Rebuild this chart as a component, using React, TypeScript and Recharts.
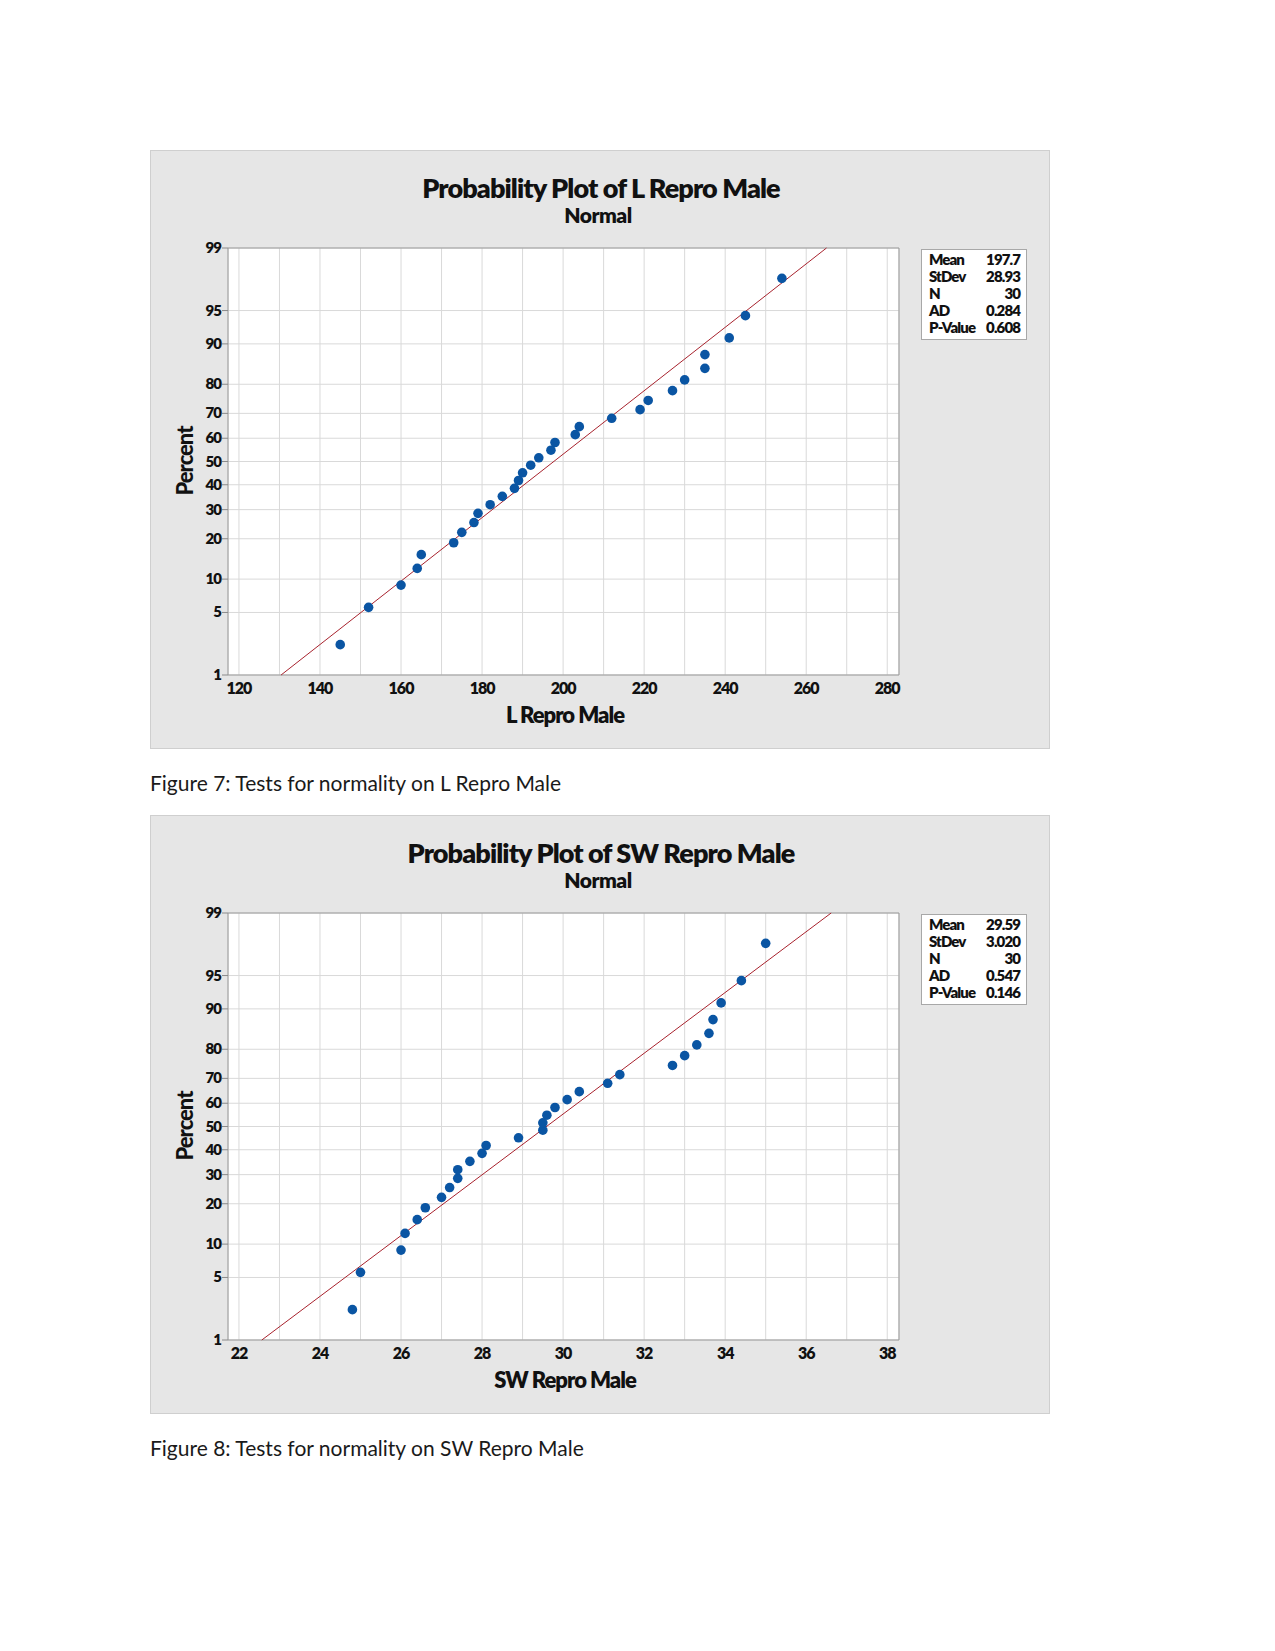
import React from "react";
import {CartesianGrid, ReferenceArea, ReferenceLine, Scatter, ScatterChart, XAxis, YAxis} from "recharts";

// plotting positions (median ranks, %) shared by both plots
const PLOT_PERCENTS = [
   2.3, 5.6, 8.9, 12.2, 15.5, 18.8, 22.0, 25.3, 28.6, 31.9,
   35.2, 38.5, 41.8, 45.1, 48.4, 51.6, 54.9, 58.2, 61.5, 64.8,
   68.1, 71.4, 74.7, 78.0, 81.3, 84.5, 87.8, 91.1, 94.4, 97.7,
];
const PERCENT_TICKS = [1, 5, 10, 20, 30, 40, 50, 60, 70, 80, 90, 95, 99];

const L_REPRO_MALE = [
   145, 152, 160, 164, 165, 173, 175, 178, 179, 182,
   185, 188, 189, 190, 192, 194, 197, 198, 203, 204,
   212, 219, 221, 227, 230, 235, 235, 241, 245, 254,
];
const L_TICKS = [120, 130, 140, 150, 160, 170, 180, 190, 200, 210, 220, 230, 240, 250, 260, 270, 280];
const L_STATS = [["Mean", "197.7"], ["StDev", "28.93"], ["N", "30"], ["AD", "0.284"], ["P-Value", "0.608"]];

const SW_REPRO_MALE = [
   24.8, 25.0, 26.0, 26.1, 26.4, 26.6, 27.0, 27.2, 27.4, 27.4,
   27.7, 28.0, 28.1, 28.9, 29.5, 29.5, 29.6, 29.8, 30.1, 30.4,
   31.1, 31.4, 32.7, 33.0, 33.3, 33.6, 33.7, 33.9, 34.4, 35.0,
];
const SW_TICKS = [22, 23, 24, 25, 26, 27, 28, 29, 30, 31, 32, 33, 34, 35, 36, 37, 38];
const SW_STATS = [["Mean", "29.59"], ["StDev", "3.020"], ["N", "30"], ["AD", "0.547"], ["P-Value", "0.146"]];

// inverse normal cdf (Acklam) -> used to build the probability scale
function probit(p: number): number {
   const a = [-39.69683028665376, 220.9460984245205, -275.9285104469687, 138.357751867269, -30.66479806614716, 2.506628277459239];
   const b = [-54.47609879822406, 161.5858368580409, -155.6989798598866, 66.80131188771972, -13.28068155288572];
   const c = [-0.007784894002430293, -0.3223964580411365, -2.400758277161838, -2.549732539343734, 4.374664141464968, 2.938163982698783];
   const d = [0.007784695709041462, 0.3224671290700398, 2.445134137142996, 3.754408661907416];
   const pl = 0.02425;
   if (p < pl) {
      const q = Math.sqrt(-2 * Math.log(p));
      return (((((c[0] * q + c[1]) * q + c[2]) * q + c[3]) * q + c[4]) * q + c[5]) / ((((d[0] * q + d[1]) * q + d[2]) * q + d[3]) * q + 1);
   }
   if (p > 1 - pl) {
      const q = Math.sqrt(-2 * Math.log(1 - p));
      return -(((((c[0] * q + c[1]) * q + c[2]) * q + c[3]) * q + c[4]) * q + c[5]) / ((((d[0] * q + d[1]) * q + d[2]) * q + d[3]) * q + 1);
   }
   const q = p - 0.5;
   const r = q * q;
   return (((((a[0] * r + a[1]) * r + a[2]) * r + a[3]) * r + a[4]) * r + a[5]) * q / (((((b[0] * r + b[1]) * r + b[2]) * r + b[3]) * r + b[4]) * r + 1);
}

const Z_MAX = probit(0.99);
const Z_TICKS = PERCENT_TICKS.map((p) => probit(p / 100));

const FONT = "Lato, 'DejaVu Sans', sans-serif";
const DOT = "#0a55a3";
const FIT = "#a8232e";

const Dot = (props: any) => <circle cx={props.cx} cy={props.cy} r={4.8} fill={DOT}/>;

const XTick = (props: any) => {
   const {x, y, payload, index, labelStep} = props;
   if (index % labelStep !== 0) return <g/>;
   return (
      <text x={x} y={y + 17} textAnchor="middle" fontFamily={FONT} fontWeight={800} fontSize={16} letterSpacing={-1} fill="#111">
         {payload.value}
      </text>
   );
};

const YTick = (props: any) => {
   const {x, y, index} = props;
   return (
      <text x={x + 1} y={y + 5} textAnchor="end" fontFamily={FONT} fontWeight={800} fontSize={15} letterSpacing={-1} fill="#111">
         {PERCENT_TICKS[index]}
      </text>
   );
};

interface PlotProps {
   top: number;
   title: string;
   xLabel: string;
   values: number[];
   xTicks: number[];
   labelStep: number;
   domain: [number, number];
   mean: number;
   sd: number;
   stats: string[][];
   caption: string;
}

const ProbPlot: React.FC<PlotProps> = ({top, title, xLabel, values, xTicks, labelStep, domain, mean, sd, stats, caption}) => {
   const data = values.map((v, i) => ({x: v, z: probit(PLOT_PERCENTS[i] / 100)}));
   return (
      <>
         <div style={{position: "absolute", left: 150, top, width: 898, height: 597, background: "#e6e6e6", border: "1px solid #cfcfcf"}}>
            <div style={{position: "absolute", left: 0, width: 900, top: 21, textAlign: "center", fontFamily: FONT, fontWeight: 800, fontSize: 27, letterSpacing: -0.9, lineHeight: "32px", color: "#111"}}>
               {title}
            </div>
            <div style={{position: "absolute", left: -3, width: 900, top: 52, textAlign: "center", fontFamily: FONT, fontWeight: 800, fontSize: 21, letterSpacing: -0.5, lineHeight: "24px", color: "#111"}}>
               Normal
            </div>
            <div style={{position: "absolute", left: 34 - 50, top: 310 - 13, width: 100, height: 26, lineHeight: "26px", textAlign: "center", transform: "rotate(-90deg)", fontFamily: FONT, fontWeight: 900, fontSize: 22, letterSpacing: -1, color: "#111"}}>
               Percent
            </div>
            <div style={{position: "absolute", left: 264, width: 300, top: 551, textAlign: "center", fontFamily: FONT, fontWeight: 800, fontSize: 22, letterSpacing: -1, lineHeight: "26px", color: "#111"}}>
               {xLabel}
            </div>
            <div style={{position: "absolute", left: 770, top: 98, width: 106, height: 91, background: "#fff", border: "1px solid #a8a8a8", padding: "1px 0", boxSizing: "border-box"}}>
               {stats.map(([k, v]) => (
                  <div key={k} style={{display: "flex", justifyContent: "space-between", padding: "0 6px 0 7px", fontFamily: FONT, fontWeight: 800, fontSize: 15, letterSpacing: -0.9, lineHeight: "17px", color: "#111"}}>
                     <span>{k}</span><span>{v}</span>
                  </div>
               ))}
            </div>
            <div style={{position: "absolute", left: -1, top: -1}}>
               <ScatterChart width={900} height={599} margin={{top: 98, right: 151, bottom: 44, left: 38}}>
                  <CartesianGrid fill="#ffffff" stroke="#d9d9d9" strokeWidth={1}/>
                  <XAxis
                     type="number"
                     dataKey="x"
                     domain={domain}
                     ticks={xTicks}
                     allowDataOverflow
                     interval={0}
                     height={30}
                     tickSize={0}
                     tickLine={false}
                     axisLine={false}
                     tick={<XTick labelStep={labelStep}/>}
                  />
                  <YAxis
                     type="number"
                     dataKey="z"
                     domain={[-Z_MAX, Z_MAX]}
                     ticks={Z_TICKS}
                     allowDataOverflow
                     interval={0}
                     width={40}
                     tickSize={6}
                     tickLine={{stroke: "#8a8a8a"}}
                     axisLine={false}
                     tick={<YTick/>}
                  />
                  <ReferenceArea x1={domain[0]} x2={domain[1]} y1={-Z_MAX} y2={Z_MAX} fill="none" stroke="#9a9a9a" strokeWidth={1} fillOpacity={0}/>
                  <ReferenceLine
                     segment={[{x: mean - Z_MAX * sd, y: -Z_MAX}, {x: mean + Z_MAX * sd, y: Z_MAX}]}
                     stroke={FIT}
                     strokeWidth={1}
                  />
                  <Scatter data={data} shape={Dot} isAnimationActive={false}/>
               </ScatterChart>
            </div>
         </div>
         <div style={{position: "absolute", left: 150, top: top + 620, fontFamily: FONT, fontSize: 21, lineHeight: "26px", color: "#1a1a1a"}}>
            {caption}
         </div>
      </>
   );
};

const App: React.FC = () => (
   <div style={{position: "absolute", left: 0, top: 0, width: 1275, height: 1651, background: "#fff"}}>
      <ProbPlot
         top={150}
         title="Probability Plot of L Repro Male"
         xLabel="L Repro Male"
         values={L_REPRO_MALE}
         xTicks={L_TICKS}
         labelStep={2}
         domain={[117.3, 282.9]}
         mean={197.7}
         sd={28.93}
         stats={L_STATS}
         caption="Figure 7: Tests for normality on L Repro Male"
      />
      <ProbPlot
         top={815}
         title="Probability Plot of SW Repro Male"
         xLabel="SW Repro Male"
         values={SW_REPRO_MALE}
         xTicks={SW_TICKS}
         labelStep={2}
         domain={[21.73, 38.29]}
         mean={29.59}
         sd={3.02}
         stats={SW_STATS}
         caption="Figure 8: Tests for normality on SW Repro Male"
      />
   </div>
);

export default App;
